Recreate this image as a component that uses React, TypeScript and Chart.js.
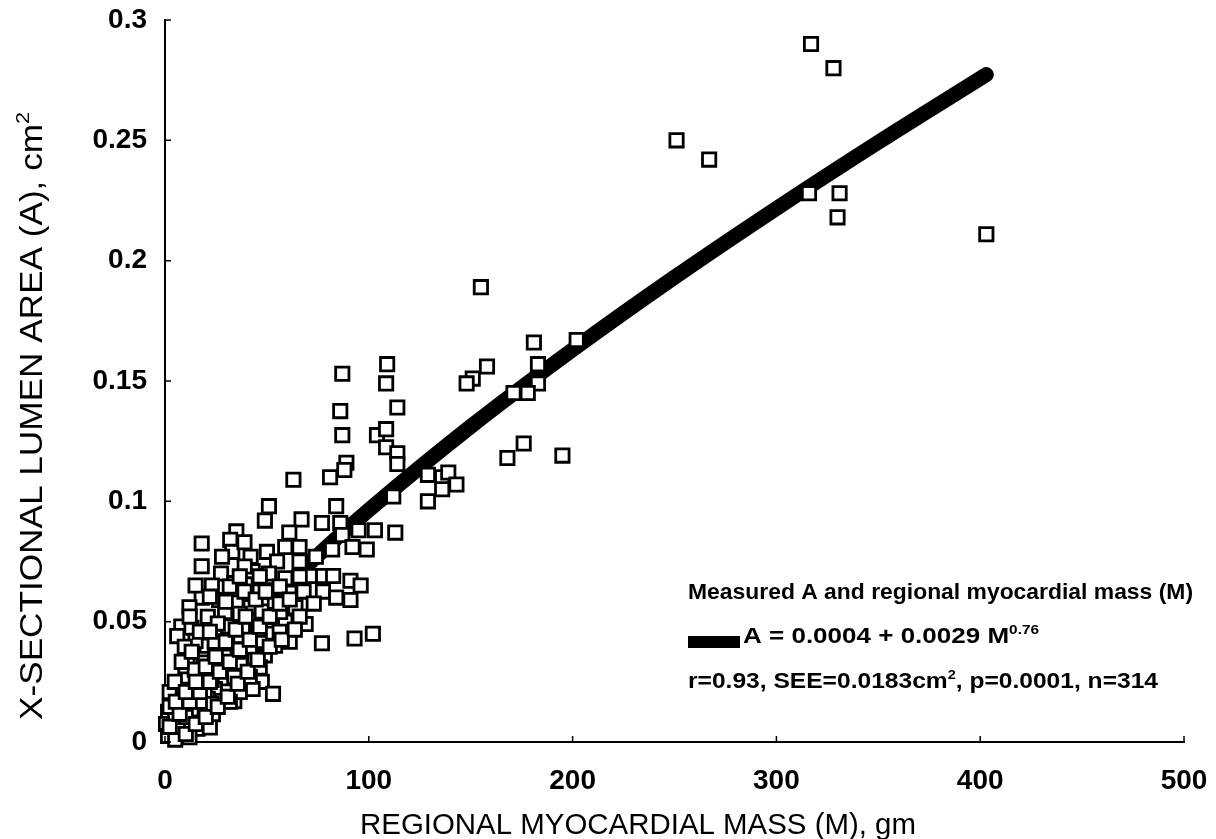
import React, { useEffect, useRef } from "react";
import { Chart, registerables } from "chart.js";

Chart.register(...registerables);

// ---- Data ----
const massGm: number[] = [
  317, 328, 251, 267, 316, 331, 330, 403, 155, 202, 181, 183, 183, 158, 151, 148, 171, 178, 176, 168,
  195, 129, 136, 139, 143, 136, 129, 114, 87, 109, 108.5, 86, 87, 104, 108.5, 108.5, 114, 114, 89, 88,
  81, 63, 112, 84, 67, 77, 86, 95, 103, 113, 87, 82, 92, 99, 66, 61, 77.5, 82.5, 91, 96,
  68, 77.5, 84, 91, 73, 61, 69, 61, 77, 93, 102, 51, 49, 35, 32, 18, 33, 50, 55, 18,
  27.5, 43, 51, 59, 34, 46, 52.5, 18, 26.5, 35, 44, 21, 34, 44, 59, 8, 13, 24.5, 43, 51.5,
  6, 20.5, 32, 39, 49, 11, 19, 27, 33, 40, 10, 21, 29, 39, 47.5, 53, 11, 18, 24.5, 31,
  43, 7, 13, 21, 28, 3.5, 10, 16, 23.5, 1.5, 6.5, 13, 0.5, 3.5, 10, 16, 1.5, 42,
  5, 7.5, 15, 19.5, 34, 34, 37, 44, 46.5, 54, 56.5, 49, 39, 29.5, 24.5, 15, 12, 5, 17, 22,
  46.5, 64, 71, 66, 74, 59, 42, 39, 28, 23, 12, 15, 31, 37, 50.5,
  2.3, 4.8, 8.7, 12.1, 15.6, 19.5, 22.9, 25.9, 29.3, 35.7, 38.2, 45.5, 47.5, 36.7, 25.9, 17.1, 9.7, 14.6, 22.9, 36.7,
  41.6, 31.8, 6.3, 10.2, 17.1, 2.3, 24.4, 41.6, 56.3, 53.9, 61.2, 66.1, 31.8, 22, 12.1, 46.5, 56.3, 39.1, 66.1,
  2.3, 7.2, 12.1, 17.1, 22, 26.9, 31.8, 36.7, 41.6, 46.5, 51.4, 56.3, 61.2, 5.3, 10.2, 15.1, 20, 24.9, 29.8, 34.7,
  39.6, 44.5, 49.4, 10.2, 15.1, 20, 25.9, 30.8, 35.7, 40.6, 45.5, 51.4, 57.3, 63.7, 8.2, 13.1, 22, 29.8, 36.7, 46.5,
];
const lumenAreaCm2: number[] = [
  0.29, 0.28, 0.25, 0.242, 0.228, 0.228, 0.218, 0.211, 0.189, 0.167, 0.166, 0.157, 0.149, 0.156, 0.151, 0.149, 0.145, 0.145, 0.124, 0.118,
  0.119, 0.111, 0.11, 0.112, 0.107, 0.105, 0.1, 0.139, 0.153, 0.157, 0.149, 0.1375, 0.1275, 0.1275, 0.13, 0.1225, 0.12, 0.1155, 0.116, 0.113,
  0.11, 0.109, 0.102, 0.098, 0.0925, 0.091, 0.091, 0.088, 0.088, 0.087, 0.086, 0.08, 0.081, 0.08, 0.075, 0.087, 0.069, 0.069, 0.067, 0.065,
  0.0625, 0.0625, 0.06, 0.059, 0.0575, 0.062, 0.049, 0.048, 0.041, 0.043, 0.045, 0.098, 0.092, 0.0875, 0.084, 0.0825, 0.079, 0.079, 0.075, 0.073,
  0.07, 0.071, 0.07, 0.068, 0.066, 0.065, 0.063, 0.06, 0.059, 0.058, 0.057, 0.052, 0.051, 0.05, 0.05, 0.048, 0.0475, 0.045, 0.0445, 0.045,
  0.044, 0.04, 0.039, 0.039, 0.036, 0.035, 0.033, 0.0325, 0.032, 0.03, 0.03, 0.028, 0.026, 0.026, 0.025, 0.02, 0.026, 0.024, 0.022, 0.021,
  0.022, 0.021, 0.018, 0.018, 0.017, 0.017, 0.014, 0.0125, 0.0115, 0.0125, 0.0095, 0.008, 0.0075, 0.005, 0.006, 0.0055, 0.0025, 0.056,
  0.0105, 0.0145, 0.021, 0.0145, 0.017, 0.027, 0.033, 0.035, 0.042, 0.04, 0.054, 0.058, 0.0625, 0.054, 0.0375, 0.042, 0.002, 0.001, 0.008, 0.006,
  0.031, 0.056, 0.069, 0.081, 0.077, 0.081, 0.077, 0.083, 0.077, 0.065, 0.056, 0.065, 0.048, 0.044, 0.052,
  0.0208, 0.025, 0.0175, 0.0217, 0.0271, 0.0208, 0.0258, 0.0313, 0.0354, 0.0375, 0.0479, 0.0467, 0.0542, 0.0533, 0.0492, 0.0458, 0.0396, 0.03, 0.0158, 0.0208,
  0.0271, 0.0167, 0.0063, 0.0104, 0.0167, 0.0146, 0.0417, 0.0396, 0.0458, 0.0583, 0.0417, 0.0521, 0.0646, 0.0604, 0.0521, 0.0625, 0.0646, 0.0729, 0.0688,
  0.0063, 0.0117, 0.0167, 0.0208, 0.025, 0.0292, 0.0333, 0.0383, 0.0425, 0.0479, 0.0521, 0.0575, 0.0592, 0.0167, 0.0208, 0.025, 0.0313, 0.0354, 0.0417, 0.0467,
  0.0521, 0.0592, 0.0625, 0.0033, 0.0075, 0.0104, 0.0146, 0.0188, 0.0242, 0.0292, 0.0342, 0.0396, 0.0425, 0.0467, 0.0333, 0.0375, 0.0458, 0.0583, 0.0688, 0.0688,
];

// Fitted curve A = 0.0004 + 0.0029 M^0.76 (values at listed masses)
const fitMass: number[] = [0, 5, 10, 20, 40, 60, 80, 100, 150, 200, 250, 300, 350, 403];
const fitArea: number[] = [0.0004, 0.0103, 0.0171, 0.0287, 0.0483, 0.0655, 0.0815, 0.0964, 0.1311, 0.163, 0.1931, 0.2217, 0.2492, 0.2773];

const xTicks: number[] = [0, 100, 200, 300, 400, 500];
const yTicks: number[] = [0, 0.05, 0.1, 0.15, 0.2, 0.25, 0.3];
const yTickLabels: string[] = ["0", "0.05", "0.1", "0.15", "0.2", "0.25", "0.3"];
const xTickLabels: string[] = ["0", "100", "200", "300", "400", "500"];

const xTitle = "REGIONAL MYOCARDIAL MASS (M), gm";
const yTitleMain = "X-SECTIONAL LUMEN AREA (A), cm";
const yTitleSup = "2";
const legendTitle = "Measured A and regional myocardial mass (M)";
const legendFitMain = "A = 0.0004 + 0.0029 M";
const legendFitSup = "0.76";
const legendStatsA = "r=0.93, SEE=0.0183cm";
const legendStatsSup = "2";
const legendStatsB = ", p=0.0001, n=314";

const FONT = "'Liberation Sans', Arial, Helvetica, sans-serif";

type Part = { t: string; sup?: boolean };

function drawRich(
  ctx: CanvasRenderingContext2D,
  parts: Part[],
  x: number,
  y: number,
  width: number,
  size: number,
  supSize: number,
  weight: string
) {
  const main = `${weight} ${size}px ${FONT}`;
  const sup = `${weight} ${supSize}px ${FONT}`;
  let total = 0;
  for (const p of parts) {
    ctx.font = p.sup ? sup : main;
    total += ctx.measureText(p.t).width;
  }
  const sx = width / total;
  ctx.save();
  ctx.translate(x, y);
  ctx.scale(sx, 1);
  let cx = 0;
  for (const p of parts) {
    ctx.font = p.sup ? sup : main;
    ctx.fillText(p.t, cx, p.sup ? -size * 0.42 : 0);
    cx += ctx.measureText(p.t).width;
  }
  ctx.restore();
}

const decorPlugin = {
  id: "decor",
  afterDraw(chart: any) {
    const ctx: CanvasRenderingContext2D = chart.ctx;
    const xs = chart.scales.x;
    const ys = chart.scales.y;
    const area = chart.chartArea;
    ctx.save();
    // inward tick marks
    ctx.strokeStyle = "#000";
    ctx.lineWidth = 1.5;
    ctx.beginPath();
    for (const v of xTicks) {
      const px = xs.getPixelForValue(v);
      ctx.moveTo(px, area.bottom);
      ctx.lineTo(px, area.bottom - 6);
    }
    for (const v of yTicks) {
      const py = ys.getPixelForValue(v);
      ctx.moveTo(area.left, py);
      ctx.lineTo(area.left + 6, py);
    }
    ctx.stroke();

    ctx.fillStyle = "#000";
    ctx.textBaseline = "alphabetic";
    ctx.textAlign = "left";

    // axis titles
    drawRich(ctx, [{ t: xTitle }], 360, 834, 556, 29, 18, "normal");
    ctx.save();
    ctx.translate(42, 720);
    ctx.rotate(-Math.PI / 2);
    drawRich(ctx, [{ t: yTitleMain }, { t: yTitleSup, sup: true }], 0, 0, 608, 31, 19, "normal");
    ctx.restore();

    // legend / annotation block
    const lx = 688;
    drawRich(ctx, [{ t: legendTitle }], lx, 599, 505, 22, 13, "bold");
    ctx.fillRect(lx, 636, 52, 12);
    drawRich(ctx, [{ t: legendFitMain }, { t: legendFitSup, sup: true }], lx + 55, 643, 296, 22, 13, "bold");
    drawRich(
      ctx,
      [{ t: legendStatsA }, { t: legendStatsSup, sup: true }, { t: legendStatsB }],
      lx,
      688,
      470,
      22,
      13,
      "bold"
    );
    ctx.restore();
  },
};

export default function App() {
  const ref = useRef<HTMLCanvasElement | null>(null);

  useEffect(() => {
    if (!ref.current) return;
    const scatterData = massGm.map((m, i) => ({ x: m, y: lumenAreaCm2[i] }));
    const fitData = fitMass.map((m, i) => ({ x: m, y: fitArea[i] }));
    const tickFont = { family: FONT, size: 28, weight: "bold" as const };
    const chart = new Chart(ref.current, {
      type: "scatter",
      data: {
        datasets: [
          {
            label: "Measured",
            data: scatterData,
            pointStyle: "rect",
            pointRadius: 9.4,
            pointBorderWidth: 2.8,
            borderColor: "#000",
            backgroundColor: "#fff",
            pointBackgroundColor: "#fff",
            pointBorderColor: "#000",
            order: 0,
            clip: false as any,
          },
          {
            type: "line",
            label: "Fit",
            data: fitData,
            borderColor: "#000",
            borderWidth: 15,
            borderCapStyle: "round",
            pointRadius: 0,
            cubicInterpolationMode: "monotone",
            fill: false,
            order: 1,
          } as any,
        ],
      },
      options: {
        animation: false,
        responsive: false,
        devicePixelRatio: 1,
        events: [],
        layout: { padding: { top: 20, right: 32, left: 0, bottom: 0 } },
        plugins: { legend: { display: false }, tooltip: { enabled: false } },
        scales: {
          x: {
            type: "linear",
            min: 0,
            max: 500,
            afterBuildTicks: (s: any) => {
              s.ticks = xTicks.map((v) => ({ value: v }));
            },
            afterFit: (s: any) => {
              s.height = 97;
              s.paddingLeft = 0;
              s.paddingRight = 0;
            },
            grid: { display: false, drawTicks: false },
            border: { display: true, color: "#000", width: 2 },
            ticks: {
              color: "#000",
              font: tickFont,
              padding: 22,
              maxRotation: 0,
              callback: (v: any) => xTickLabels[xTicks.indexOf(Number(v))] ?? "",
            },
            title: { display: false },
          },
          y: {
            type: "linear",
            min: 0,
            max: 0.3,
            afterBuildTicks: (s: any) => {
              s.ticks = yTicks.map((v) => ({ value: v }));
            },
            afterFit: (s: any) => {
              s.width = 165;
              s.paddingTop = 0;
              s.paddingBottom = 0;
            },
            grid: { display: false, drawTicks: false },
            border: { display: true, color: "#000", width: 2 },
            ticks: {
              color: "#000",
              font: tickFont,
              padding: 18,
              callback: (v: any) => {
                const idx = yTicks.findIndex((t) => Math.abs(t - Number(v)) < 1e-9);
                return idx >= 0 ? yTickLabels[idx] : "";
              },
            },
            title: { display: false },
          },
        },
      },
      plugins: [decorPlugin],
    });
    return () => chart.destroy();
  }, []);

  return (
    <div style={{ position: "fixed", left: 0, top: 0, width: 1216, height: 839, background: "#fff" }}>
      <canvas ref={ref} width={1216} height={839} style={{ width: 1216, height: 839, display: "block" }} />
    </div>
  );
}
